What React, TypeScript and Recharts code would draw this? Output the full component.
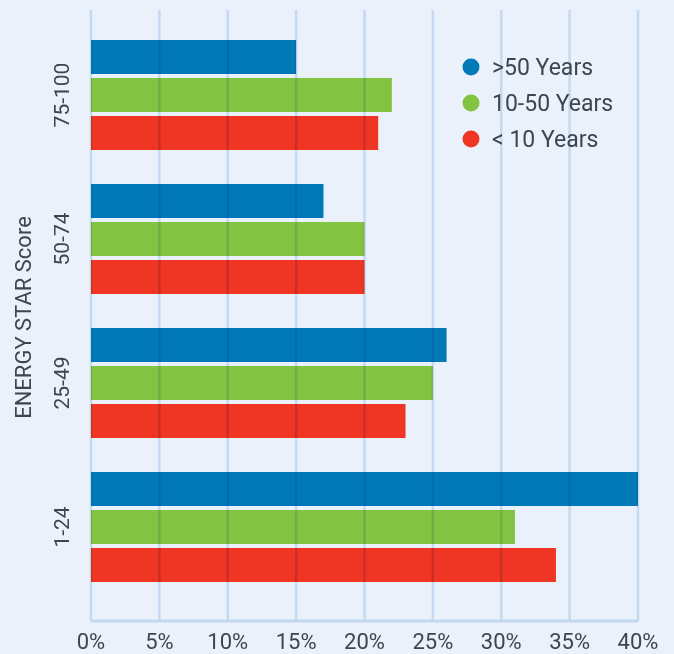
import React from 'react';
import { BarChart, Bar, XAxis, YAxis, ReferenceLine } from 'recharts';

// ENERGY STAR score bands, top to bottom
const categories = ['75-100', '50-74', '25-49', '1-24'];
// Share of buildings (%) by building age
const over50Years = [15, 17, 26, 40];
const tenTo50Years = [22, 20, 25, 31];
const under10Years = [21, 20, 23, 34];
const xTicks = [0, 5, 10, 15, 20, 25, 30, 35, 40];

const seriesNames = ['>50 Years', '10-50 Years', '< 10 Years'];
const seriesColors = ['#0079b6', '#82c341', '#ef3524'];

const data = categories.map((name, i) => ({
  name,
  over50: over50Years[i],
  mid: tenTo50Years[i],
  under10: under10Years[i],
}));

const FONT = "Roboto, 'DejaVu Sans', sans-serif";
const TEXT = '#3b4651';
const BG = '#eaf1fa';
const GRID = '#d7e6f6';

const CategoryTick = (props: any) => {
  const { x, y, payload } = props;
  return (
    <text
      x={0}
      y={0}
      transform={`translate(${x - 21},${y}) rotate(-90)`}
      textAnchor="middle"
      dominantBaseline="central"
      fontFamily={FONT}
      fontSize={21}
      fill={TEXT}
    >
      {payload.value}
    </text>
  );
};

const AxisTitle = (props: any) => {
  const vb = props.viewBox || { x: 0, y: 0, height: 0 };
  const cy = vb.y + vb.height / 2 + 2;
  return (
    <text
      x={0}
      y={0}
      transform={`translate(23,${cy}) rotate(-90)`}
      textAnchor="middle"
      dominantBaseline="central"
      fontFamily={FONT}
      fontSize={22}
      fill={TEXT}
    >
      ENERGY STAR Score
    </text>
  );
};

const LegendList = () => (
  <div
    style={{
      position: 'absolute',
      left: 462,
      top: 49,
      fontFamily: FONT,
      fontSize: 23,
      color: TEXT,
      pointerEvents: 'none',
    }}
  >
    {seriesNames.map((n, i) => (
      <div key={n} style={{ display: 'flex', alignItems: 'center', height: 36 }}>
        <svg width={18} height={18} style={{ marginRight: 12 }}>
          <circle cx={9} cy={9} r={8.5} fill={seriesColors[i]} />
        </svg>
        <span>{n}</span>
      </div>
    ))}
  </div>
);

export default function App() {
  return (
    <div style={{ position: 'absolute', left: 0, top: 0, width: 674, height: 654, background: BG }}>
      <BarChart
        width={674}
        height={654}
        data={data}
        layout="vertical"
        margin={{ top: 10, right: 36, left: 0, bottom: 0 }}
        barSize={34}
        barGap={4}
      >
        <XAxis
          type="number"
          domain={[0, 40]}
          ticks={xTicks}
          tickFormatter={(v: number) => `${v}%`}
          height={33}
          tickLine={false}
          axisLine={{ stroke: '#c3d7f0', strokeWidth: 3 }}
          tickMargin={6}
          tick={{ fontFamily: FONT, fontSize: 22, fill: TEXT }}
          interval={0}
        />
        <YAxis
          type="category"
          dataKey="name"
          width={91}
          axisLine={false}
          tickLine={false}
          padding={{ top: 13, bottom: 22 }}
          tick={<CategoryTick />}
          label={{ content: <AxisTitle /> }}
        />
        <Bar dataKey="over50" name={seriesNames[0]} fill={seriesColors[0]} isAnimationActive={false} />
        <Bar dataKey="mid" name={seriesNames[1]} fill={seriesColors[1]} isAnimationActive={false} />
        <Bar dataKey="under10" name={seriesNames[2]} fill={seriesColors[2]} isAnimationActive={false} />
        {xTicks.map((t) => (
          <ReferenceLine
            key={t}
            x={t}
            stroke={GRID}
            strokeWidth={2.5}
            style={{ mixBlendMode: 'multiply' }}
          />
        ))}
      </BarChart>
      <LegendList />
    </div>
  );
}
